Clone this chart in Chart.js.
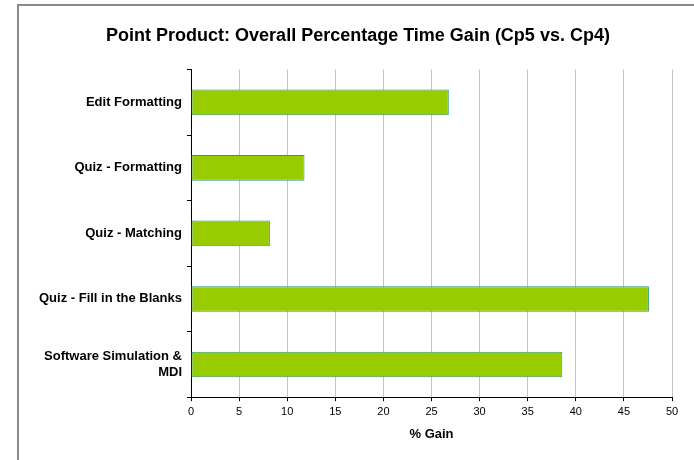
<!DOCTYPE html>
<html>
<head>
<meta charset="utf-8">
<script src="https://cdn.jsdelivr.net/npm/chart.js@4/dist/chart.umd.min.js"></script>
<style>
  html, body { margin: 0; padding: 0; background: #fff; }
  #wrap { position: relative; width: 694px; height: 460px; overflow: hidden; }
  #frame { position: absolute; left: 17px; top: 4px; width: 700px; height: 470px;
           border-left: 2px solid #8a8a8a; border-top: 2px solid #8a8a8a; }
  canvas { position: absolute; left: 0; top: 0; }
</style>
</head>
<body>
<div id="wrap">
  <div id="frame"></div>
  <canvas id="gainChart" width="694" height="460"></canvas>
</div>
<script>
// data
const categories = [
    'Edit Formatting',
    'Quiz - Formatting',
    'Quiz - Matching',
    'Quiz - Fill in the Blanks',
    ['Software Simulation &', 'MDI']
];
const gainValues = [26.8, 11.8, 8.2, 47.6, 38.6];
const xTicks = [0, 5, 10, 15, 20, 25, 30, 35, 40, 45, 50];

const chartTitle = 'Point Product: Overall Percentage Time Gain (Cp5 vs. Cp4)';
const xTitle = '% Gain';

const FONT = "'Liberation Sans', Arial, Helvetica, sans-serif";

// the chart object sits inside the grey frame, its title is centred a bit right of the page centre
const shiftTitle = {
    id: 'shiftTitle',
    afterLayout(chart) {
        const t = chart.titleBlock;
        if (t) { t.left += 12; t.right += 12; }
    }
};

const ctx = document.getElementById('gainChart').getContext('2d');
new Chart(ctx, {
    type: 'bar',
    data: {
        labels: categories,
        datasets: [{
            data: gainValues,
            backgroundColor: '#99cc00',
            borderColor: '#2f9a70',
            borderWidth: 1,
            borderSkipped: false,
            barPercentage: 0.39,
            categoryPercentage: 1
        }]
    },
    options: {
        indexAxis: 'y',
        responsive: false,
        animation: false,
        layout: { padding: { left: 20, right: 22, top: 0, bottom: 11 } },
        plugins: {
            legend: { display: false },
            tooltip: { enabled: false },
            title: {
                display: true,
                text: chartTitle,
                color: '#000',
                font: { family: FONT, size: 18, weight: 'bold', lineHeight: 1.2 },
                padding: { top: 25, bottom: 23 }
            }
        },
        scales: {
            x: {
                type: 'linear',
                min: 0,
                max: 50,
                afterBuildTicks: scale => { scale.ticks = xTicks.map(v => ({ value: v })); },
                grid: {
                    color: '#c4c4c4',
                    lineWidth: 1,
                    tickColor: '#000',
                    tickLength: 4
                },
                border: { color: '#000', width: 1 },
                ticks: {
                    color: '#000',
                    padding: 4,
                    font: { family: FONT, size: 11 }
                },
                title: {
                    display: true,
                    text: xTitle,
                    color: '#000',
                    font: { family: FONT, size: 13, weight: 'bold' },
                    padding: { top: 4, bottom: 7 }
                }
            },
            y: {
                type: 'category',
                offset: true,
                afterFit: scale => { scale.width = 171; },
                grid: {
                    offset: true,
                    drawOnChartArea: false,
                    drawTicks: true,
                    tickLength: 4,
                    color: '#000'
                },
                border: { color: '#000', width: 1 },
                ticks: {
                    color: '#000',
                    padding: 5,
                    font: { family: FONT, size: 13, weight: 'bold', lineHeight: 1.3 }
                }
            }
        }
    },
    plugins: [shiftTitle]
});
</script>
</body>
</html>
